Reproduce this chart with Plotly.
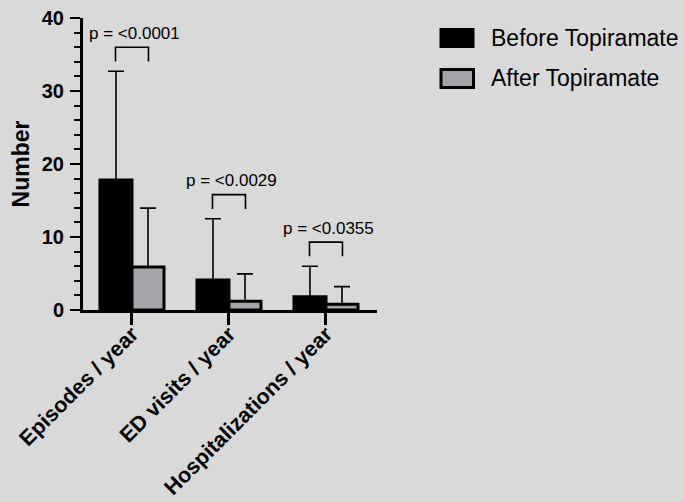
import plotly.graph_objects as go

categories = ["Episodes / year", "ED visits / year", "Hospitalizations / year"]
series_names = ["Before Topiramate", "After Topiramate"]
before_mean = [17.8, 4.1, 1.8]
before_err = [14.9, 8.4, 4.2]
after_mean = [5.9, 1.2, 0.8]
after_err = [8.05, 3.75, 2.4]
p_labels = ["p = <0.0001", "p = <0.0029", "p = <0.0355"]
y_ticks = [0, 10, 20, 30, 40]

BG = "#d9d9d9"
GRAY = "#a5a4aa"
FONT = "Liberation Sans, Arial, sans-serif"

fig = go.Figure()
fig.add_trace(go.Bar(
    name=series_names[0], x=categories, y=before_mean,
    marker=dict(color="black", line=dict(color="black", width=3)),
    error_y=dict(type="data", symmetric=False, array=before_err,
                 arrayminus=[0] * len(before_err), color="black",
                 thickness=1.6, width=8),
    showlegend=False,
))
fig.add_trace(go.Bar(
    name=series_names[1], x=categories, y=after_mean,
    marker=dict(color=GRAY, line=dict(color="black", width=3)),
    error_y=dict(type="data", symmetric=False, array=after_err,
                 arrayminus=[0] * len(after_err), color="black",
                 thickness=1.6, width=8),
    showlegend=False,
))

# significance brackets
half = 0.17
for i, lab in enumerate(p_labels):
    top_val = max(before_mean[i] + before_err[i], after_mean[i] + after_err[i])
    y0 = top_val + 1.35
    y1 = y0 + 1.95
    fig.add_shape(type="path", xref="x", yref="y",
                  path=f"M {i-half},{y0} L {i-half},{y1} L {i+half},{y1} L {i+half},{y0}",
                  line=dict(color="black", width=1.6))
    fig.add_annotation(x=i + 0.03, y=y1 + 1.9, xref="x", yref="y", text=lab,
                       showarrow=False, xanchor="center", yanchor="middle",
                       font=dict(family=FONT, size=17, color="black"))

# legend (drawn manually to match large swatches)
def px_x(p):
    return (p - 83) / 294.0

def px_y(p):
    return (310 - p) / 292.0

fig.add_shape(type="rect", xref="paper", yref="paper",
              x0=px_x(439.5), x1=px_x(474.5), y0=px_y(48), y1=px_y(28),
              fillcolor="black", line=dict(width=0))
fig.add_shape(type="rect", xref="paper", yref="paper",
              x0=px_x(441), x1=px_x(473.5), y0=px_y(87.5), y1=px_y(69.5),
              fillcolor=GRAY, line=dict(color="black", width=3))
for name, yc in zip(series_names, [38, 78]):
    fig.add_annotation(x=px_x(489), y=px_y(yc), xref="paper", yref="paper",
                       text=name, showarrow=False, xanchor="left", yanchor="middle",
                       font=dict(family=FONT, size=23, color="black"))

fig.update_layout(
    width=684, height=502,
    paper_bgcolor=BG, plot_bgcolor=BG,
    margin=dict(l=83, r=307, t=18, b=192, autoexpand=False),
    barmode="group", bargap=0.34, bargroupgap=0,
    showlegend=False,
)
fig.update_xaxes(
    type="category", range=[-0.505, 2.526], automargin=False,
    showline=True, linecolor="black", linewidth=3,
    ticks="outside", ticklen=12, tickwidth=2.5, tickcolor="black",
    tickangle=-45, showgrid=False, zeroline=False, ticklabelstandoff=-12,
    tickfont=dict(family=FONT, size=21.5, color="black", weight="bold"),
)
fig.update_yaxes(
    range=[0, 40], tickvals=y_ticks, automargin=False,
    showline=True, linecolor="black", linewidth=3,
    ticks="outside", ticklen=10, tickwidth=2.2, tickcolor="black",
    minor=dict(dtick=2, ticks="outside", ticklen=6, tickwidth=2.2, tickcolor="black"),
    showgrid=False, zeroline=False, ticklabelstandoff=2,
    tickfont=dict(family=FONT, size=20, color="black", weight="bold"),
    title=dict(text="Number", standoff=6,
               font=dict(family=FONT, size=23, color="black", weight="bold")),
)

fig.write_html("out.html", config={"displayModeBar": False},
               post_script="document.body.style.margin='0';document.body.style.overflow='hidden';")
